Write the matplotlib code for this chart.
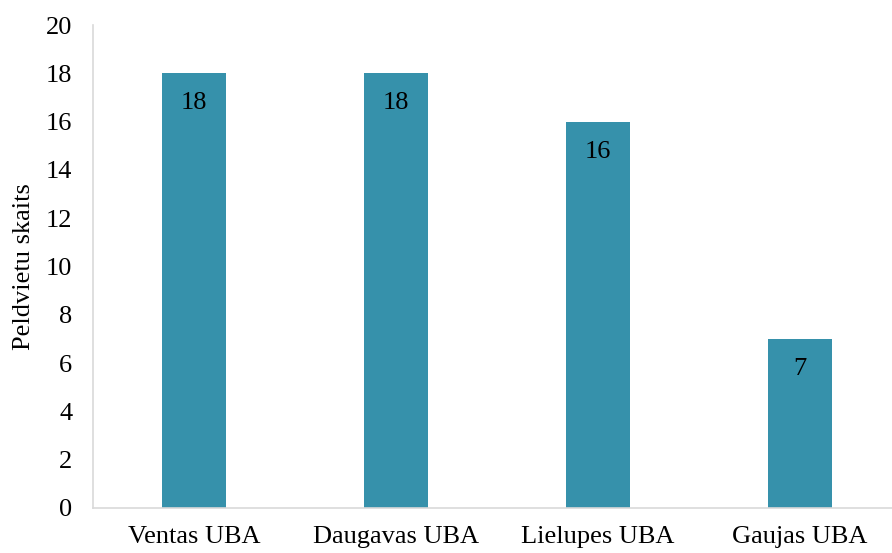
import matplotlib.pyplot as plt
import numpy as np

categories = ["Ventas UBA", "Daugavas UBA", "Lielupes UBA", "Gaujas UBA"]
values = [18, 18, 16, 7]
yticks = list(range(0, 21, 2))

plt.rcParams["font.family"] = ["Liberation Serif", "DejaVu Serif"]
fs = 19

fig = plt.figure(figsize=(8.92, 5.53), dpi=100)
ax = fig.add_axes([93 / 892, 45 / 553, 808 / 892, 483 / 553])

x = np.arange(len(categories))
bars = ax.bar(x, values, width=0.317, color="#3691ab", zorder=2)

# value labels just under the top of each bar
for rect, v in zip(bars, values):
    ax.annotate(str(v), (rect.get_x() + rect.get_width() / 2, v),
                xytext=(0, -30), textcoords="offset pixels",
                ha="center", va="center", fontsize=fs, color="black")

ax.set_xlim(-0.5, 3.5)
ax.set_ylim(0, 20)
ax.set_xticks(x)
ax.set_xticklabels(categories, fontsize=fs)
ax.set_yticks(yticks)
ax.set_yticklabels([str(t) for t in yticks], fontsize=fs)
ax.tick_params(axis="y", length=0, pad=15)
ax.tick_params(axis="x", length=0, pad=13)

for s in ["top", "right"]:
    ax.spines[s].set_visible(False)
for s in ["left", "bottom"]:
    ax.spines[s].set_color("#d9d9d9")
    ax.spines[s].set_linewidth(1.2)

ax.set_ylabel("Peldvietu skaits", fontsize=fs, labelpad=8)

fig.savefig("out.png", dpi=100)
